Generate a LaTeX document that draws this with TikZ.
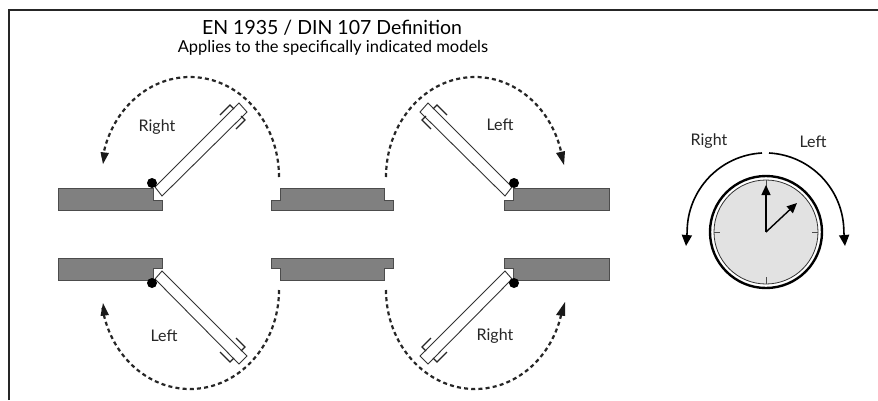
\documentclass[tikz,border=0pt]{standalone}
\usepackage{fontspec}
\setmainfont{Lato}
\usetikzlibrary{arrows.meta}
\definecolor{wallgray}{HTML}{808080}
\definecolor{dialgray}{HTML}{E2E2E2}
\tikzset{
  wall/.style={draw=black!70,line width=1pt,fill=wallgray},
  door/.style={draw=black!80,line width=0.9pt,fill=white},
  hinge/.style={circle,fill=black,inner sep=0pt,minimum size=10pt},
  swing/.style={line width=2.2pt,dash pattern=on 4pt off 3.2pt,black!85},
  swingtip/.style={fill=black!90},
  grip/.style={line width=1.1pt,black!85},
  lbl/.style={font=\fontsize{16}{18}\selectfont,text=black!85,inner sep=0pt},
  sidearc/.style={line width=1.6pt,black},
  hand/.style={line width=1.4pt,black,-{Triangle[length=10pt,width=9pt]}},
  tick/.style={line width=0.9pt,black!70}
}
\begin{document}
\begin{tikzpicture}[x=1pt,y=-1pt]
\useasboundingbox (0,0) rectangle (878,400);
\fill[white] (0,0) rectangle (878,400);
\draw[line width=2pt,black!85] (9,400) -- (9,10) -- (878,10);
\node[font=\fontsize{19.5}{22}\selectfont,inner sep=0pt] (title) at (332,28) {EN 1935 / DIN 107 Definition};
\node[font=\fontsize{16.5}{18}\selectfont,inner sep=0pt] (subtitle) at (333,48) {Applies to the specifically indicated models};
% walls
\draw[wall] (58,188)--(153,188)--(153,200)--(162,200)--(162,210)--(58,210)--cycle;
\draw[wall] (280,188)--(384,188)--(384,200)--(393,200)--(393,210)--(271,210)--(271,200)--(280,200)--cycle;
\draw[wall] (609,188)--(513,188)--(513,200)--(504,200)--(504,210)--(609,210)--cycle;
\draw[wall] (58,280)--(153,280)--(153,268)--(162,268)--(162,258)--(58,258)--cycle;
\draw[wall] (280,280)--(384,280)--(384,268)--(393,268)--(393,258)--(271,258)--(271,268)--(280,268)--cycle;
\draw[wall] (609,280)--(513,280)--(513,268)--(504,268)--(504,258)--(609,258)--cycle;
% doors
\draw[door] (155,187)--(239,103)--(247,112)--(162,196)--cycle;
\draw[door] (512,187)--(428,103)--(420,112)--(505,196)--cycle;
\draw[door] (155,279)--(239,364)--(247,356)--(162,271)--cycle;
\draw[door] (512,279)--(428,364)--(420,356)--(505,271)--cycle;
% grips
\draw[grip] (220,115)--(230,105)--(234,109) (236,129)--(245,120)--(241,116);
\draw[grip] (447,115)--(437,105)--(433,109) (431,129)--(422,120)--(426,116);
\draw[grip] (220,352)--(230,362)--(234,358) (236,338)--(245,347)--(241,351);
\draw[grip] (447,352)--(437,362)--(433,358) (431,338)--(422,347)--(426,351);
% hinges
\node[hinge] (h1) at (152,183) {};
\node[hinge] (h2) at (514,183) {};
\node[hinge] (h3) at (152,283) {};
\node[hinge] (h4) at (514,283) {};
% swing arcs (y axis points down, so a positive angle runs downwards)
\draw[swing] (279,177) arc[start angle=0,end angle=-170,x radius=89,y radius=100];
\draw[swing] (386,177) arc[start angle=180,end angle=350,x radius=89,y radius=100];
\draw[swing] (279,290) arc[start angle=0,end angle=170,x radius=89,y radius=99];
\draw[swing] (386,290) arc[start angle=180,end angle=10,x radius=89,y radius=99];
\fill[swingtip] (100.5,152)--(109,153)--(103,164)--cycle;
\fill[swingtip] (556,153)--(565,151)--(564,165)--cycle;
\fill[swingtip] (100.5,316)--(109,315)--(103,303)--cycle;
\fill[swingtip] (556,315)--(565,316)--(565,302)--cycle;
% labels
\node[lbl] (r1) at (157,127) {Right};
\node[lbl] (l1) at (500,125) {Left};
\node[lbl] (l2) at (164,336) {Left};
\node[lbl] (r2) at (495,336) {Right};
\node[lbl] (r3) at (709,141) {Right};
\node[lbl] (l3) at (813,142) {Left};
% dial
\coordinate (c) at (766,232);
\draw[line width=2.4pt,black,fill=white] (c) circle[radius=56];
\draw[line width=0.8pt,black!80,fill=dialgray] (c) circle[radius=52];
\draw[tick] (766,180)--(766,187) (766,284)--(766,277) (714,232)--(720,232) (818,232)--(812,232);
\draw[hand] (c)--(766,185);
\draw[hand] (c)--(797,203);
\draw[sidearc,-{Triangle[length=11pt,width=10pt]}] (762,153) arc[start angle=-93,end angle=-180,radius=79] -- (686,246);
\draw[sidearc,-{Triangle[length=11pt,width=10pt]}] (769,153) arc[start angle=-87,end angle=0,radius=79] -- (845,246);
\end{tikzpicture}
\end{document}
